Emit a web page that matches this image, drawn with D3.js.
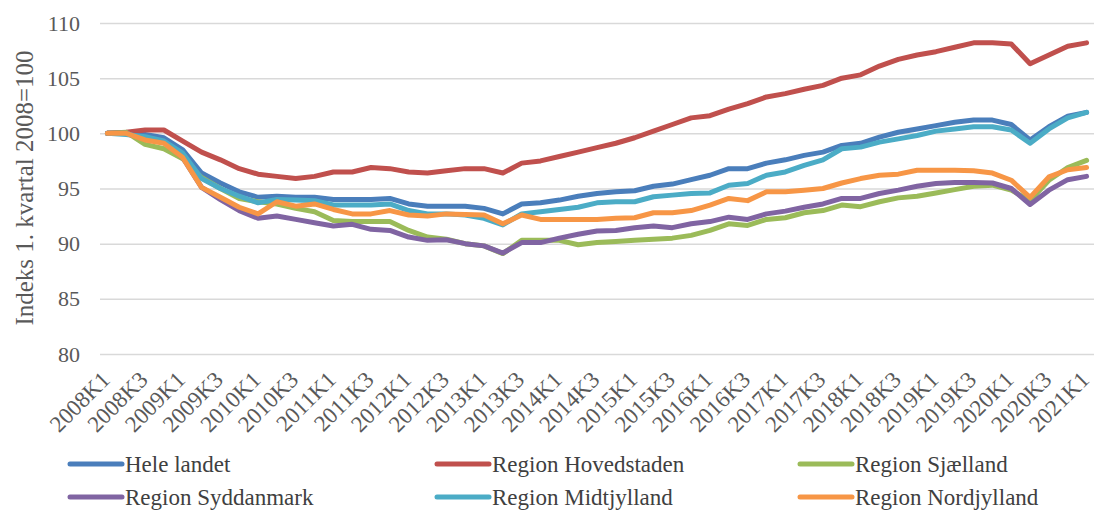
<!DOCTYPE html>
<meta charset="utf-8">

<script src="https://cdn.jsdelivr.net/npm/d3@7/dist/d3.min.js"></script>

<style>
    body { margin: 0; background: #fff; }
    text { font-family: "Liberation Serif", "Times New Roman", serif; }
</style>

<div id="my_dataviz"></div>

<script>
    // quarters 2008K1 .. 2021K1
    const years = d3.range(2008, 2022);
    const quarters = years.flatMap(y => [1, 2, 3, 4].map(q => y + "K" + q)).slice(0, 53);

    const yTicks = [80, 85, 90, 95, 100, 105, 110];
    const yTitle = "Indeks 1. kvartal 2008=100";

    const seriesNames = ["Hele landet", "Region Hovedstaden", "Region Sjælland",
        "Region Syddanmark", "Region Midtjylland", "Region Nordjylland"];

    const heleLandet = [100, 100, 99.9, 99.6, 98.5, 96.4, 95.5, 94.7, 94.2, 94.3,
        94.2, 94.2, 94.0, 94.0, 94.0, 94.1, 93.6, 93.4, 93.4, 93.4,
        93.2, 92.7, 93.6, 93.7, 93.95, 94.3, 94.55, 94.7, 94.8, 95.2,
        95.4, 95.8, 96.2, 96.8, 96.8, 97.3, 97.6, 98.0, 98.3, 98.9,
        99.1, 99.65, 100.1, 100.4, 100.7, 101.0, 101.2, 101.2, 100.8, 99.4,
        100.6, 101.55, 101.9];

    const hovedstaden = [100, 100.1, 100.3, 100.3, 99.3, 98.3, 97.6, 96.8, 96.3, 96.1,
        95.9, 96.1, 96.5, 96.5, 96.9, 96.8, 96.5, 96.4, 96.6, 96.8,
        96.8, 96.4, 97.3, 97.5, 97.9, 98.3, 98.7, 99.1, 99.6, 100.2,
        100.8, 101.4, 101.6, 102.2, 102.7, 103.3, 103.6, 104.0, 104.35, 105.0,
        105.3, 106.1, 106.7, 107.1, 107.4, 107.8, 108.2, 108.2, 108.1, 106.3,
        107.1, 107.9, 108.2];

    const sjaelland = [100, 100.1, 99.0, 98.6, 97.7, 96.0, 95.0, 94.1, 93.8, 93.6,
        93.2, 92.9, 92.1, 92.0, 92.0, 92.0, 91.2, 90.6, 90.4, 90.0,
        89.8, 89.1, 90.3, 90.3, 90.3, 89.9, 90.1, 90.2, 90.3, 90.4,
        90.5, 90.75, 91.2, 91.8, 91.65, 92.2, 92.35, 92.8, 93.0, 93.5,
        93.35, 93.8, 94.15, 94.3, 94.6, 94.9, 95.2, 95.3, 94.85, 93.9,
        95.75, 96.9, 97.55];

    const syddanmark = [100, 100, 99.5, 99.2, 97.8, 95.1, 94.0, 93.0, 92.3, 92.5,
        92.2, 91.9, 91.6, 91.75, 91.3, 91.2, 90.6, 90.3, 90.35, 90.0,
        89.8, 89.15, 90.1, 90.1, 90.5, 90.85, 91.15, 91.2, 91.45, 91.6,
        91.45, 91.8, 92.0, 92.4, 92.2, 92.7, 92.95, 93.3, 93.6, 94.1,
        94.1, 94.55, 94.85, 95.2, 95.45, 95.55, 95.55, 95.5, 95.0, 93.55,
        94.85, 95.8, 96.1];

    const midtjylland = [100, 99.9, 99.7, 99.3, 98.2, 95.9, 95.0, 94.3, 93.7, 94.0,
        93.95, 93.9, 93.5, 93.5, 93.5, 93.6, 93.0, 92.7, 92.7, 92.6,
        92.3, 91.7, 92.7, 92.9, 93.1, 93.3, 93.7, 93.8, 93.8, 94.25,
        94.4, 94.55, 94.6, 95.3, 95.45, 96.2, 96.5, 97.1, 97.6, 98.6,
        98.75, 99.2, 99.5, 99.8, 100.2, 100.4, 100.6, 100.6, 100.3, 99.1,
        100.4, 101.4, 101.9];

    const nordjylland = [100, 100, 99.4, 99.1, 97.8, 95.1, 94.2, 93.3, 92.7, 93.8,
        93.4, 93.6, 93.1, 92.7, 92.7, 93.0, 92.6, 92.5, 92.7, 92.65,
        92.6, 91.8, 92.6, 92.2, 92.2, 92.2, 92.2, 92.3, 92.35, 92.8,
        92.8, 93.0, 93.5, 94.1, 93.9, 94.7, 94.7, 94.85, 95.0, 95.5,
        95.9, 96.2, 96.3, 96.65, 96.65, 96.65, 96.6, 96.4, 95.75, 94.2,
        96.05, 96.7, 96.9];

    const seriesValues = [heleLandet, hovedstaden, sjaelland, syddanmark, midtjylland, nordjylland];
    const colors = ["#4A7EBB", "#C0504D", "#9BBB59", "#8064A2", "#4BACC6", "#F79646"];

    let width = 1094, height = 511;
    let plot = {left: 98, right: 1096, top: 23, bottom: 354};

    let svg = d3.select("#my_dataviz").append("svg")
        .attr("width", width)
        .attr("height", height)
    ;

    let xScale = d3.scaleBand()
        .domain(quarters)
        .range([plot.left, plot.right])
    ;
    let xPos = q => xScale(q) + xScale.bandwidth() / 2;

    let yScale = d3.scaleLinear()
        .domain([80, 110])
        .range([plot.bottom, plot.top])
    ;

    // gridlines + y labels
    let yAxis = d3.axisLeft(yScale)
        .tickValues(yTicks)
        .tickSize(-(1094 - 100))
        .tickPadding(20)
    ;
    let gy = svg.append("g")
        .attr("transform", "translate(100,0)")
        .call(yAxis)
    ;
    gy.select(".domain").remove();
    gy.selectAll(".tick line").attr("stroke", "#d9d9d9").attr("stroke-width", 1.5);
    gy.selectAll(".tick text")
        .attr("fill", "#595959")
        .style("font-size", "22px")
    ;

    // x labels every second quarter
    let xAxis = d3.axisBottom(xScale)
        .tickValues(quarters.filter((q, i) => i % 2 === 0))
        .tickSize(0)
        .tickPadding(0)
    ;
    let gx = svg.append("g")
        .attr("transform", `translate(0,${plot.bottom})`)
        .call(xAxis)
    ;
    gx.select(".domain").remove();
    gx.selectAll(".tick text")
        .attr("fill", "#595959")
        .style("font-size", "23px")
        .attr("text-anchor", "end")
        .attr("dy", 0)
        .attr("transform", "translate(4,27) rotate(-45)")
    ;

    svg.append("text")
        .attr("transform", "translate(33,188) rotate(-90)")
        .attr("text-anchor", "middle")
        .attr("fill", "#595959")
        .style("font-size", "25px")
        .text(yTitle)
    ;

    let line = d3.line()
        .x((d, i) => xPos(quarters[i]))
        .y(d => yScale(d))
    ;

    seriesValues.forEach((vals, k) => {
        svg.append("path")
            .datum(vals)
            .attr("fill", "none")
            .attr("stroke", colors[k])
            .attr("stroke-width", 5)
            .attr("stroke-linejoin", "round")
            .attr("stroke-linecap", "round")
            .attr("d", line)
        ;
    });

    // legend, 3 columns x 2 rows
    let legX = [70, 437, 800], legY = [464, 497];
    let leg = svg.selectAll(".leg")
        .data(seriesNames)
        .enter()
        .append("g")
        .attr("transform", (d, i) => `translate(${legX[i % 3]},${legY[Math.floor(i / 3)]})`)
    ;
    leg.append("line")
        .attr("x1", 0).attr("x2", 52)
        .attr("stroke", (d, i) => colors[i])
        .attr("stroke-width", 5)
        .attr("stroke-linecap", "round")
    ;
    leg.append("text")
        .attr("x", 55)
        .attr("dy", "0.35em")
        .attr("fill", "#404040")
        .style("font-size", "23px")
        .text(d => d)
    ;
</script>
